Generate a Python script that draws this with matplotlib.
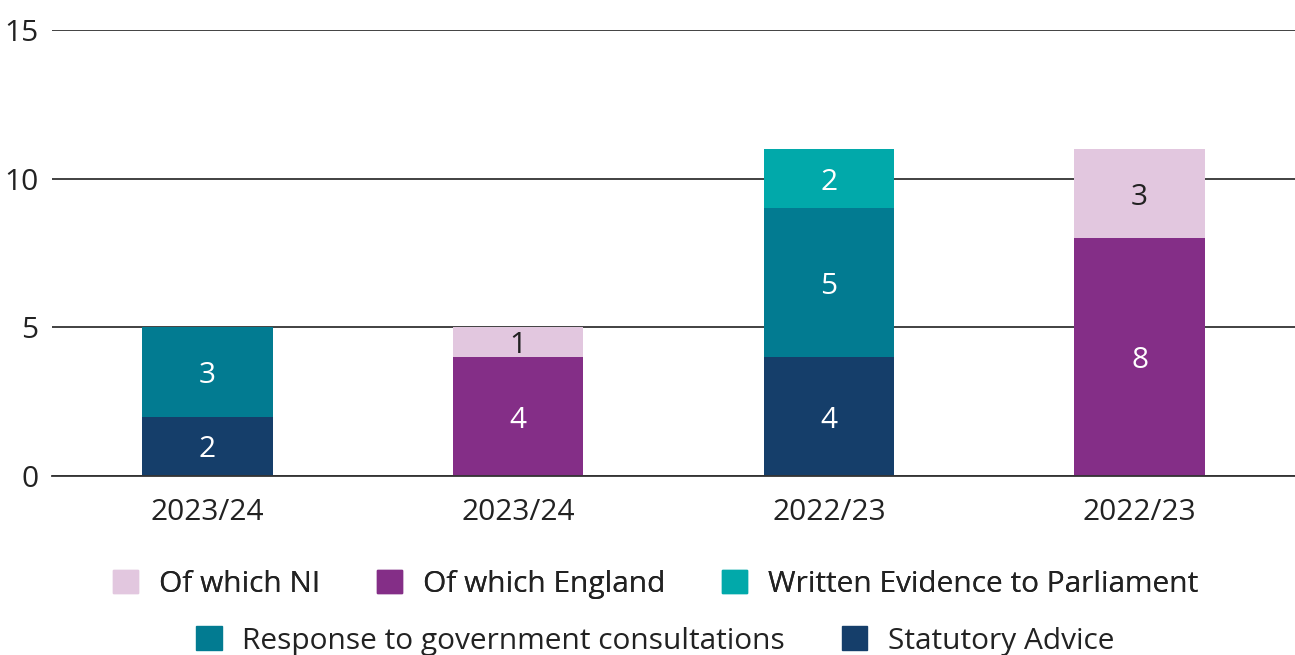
import matplotlib
matplotlib.use("Agg")
import matplotlib.pyplot as plt
from matplotlib.patches import Patch
import numpy as np

plt.rcParams['font.family'] = ['Open Sans', 'DejaVu Sans']

categories = ["2023/24", "2023/24", "2022/23", "2022/23"]
statutory = [2, 0, 4, 0]
response = [3, 0, 5, 0]
written = [0, 0, 2, 0]
england = [0, 4, 0, 8]
ni = [0, 1, 0, 3]

series = [
    ("Statutory Advice", statutory, "#153e6a", "white"),
    ("Response to government consultations", response, "#027b91", "white"),
    ("Written Evidence to Parliament", written, "#01a9aa", "white"),
    ("Of which England", england, "#842e87", "white"),
    ("Of which NI", ni, "#e2c7df", "#222222"),
]

FS = 21.5

fig = plt.figure(figsize=(12.95, 6.55), dpi=100)
ax = fig.add_axes([0.0402, 0.2733, 0.9598, 0.6809])

x = np.arange(len(categories))
bottom = np.zeros(len(categories))
for name, vals, col, tcol in series:
    vals = np.array(vals, dtype=float)
    ax.bar(x, vals, width=0.42, bottom=bottom, color=col, zorder=3)
    for xi, v, b in zip(x, vals, bottom):
        if v > 0:
            ax.text(xi, b + v / 2, f"{int(v)}", ha="center", va="center_baseline",
                    color=tcol, fontsize=FS, zorder=4)
    bottom += vals

ax.set_xlim(-0.5, 3.5)
ax.set_ylim(0, 15)
ax.set_yticks([0, 5, 10, 15])
ax.set_xticks(x)
ax.set_xticklabels(categories)
ax.tick_params(axis="both", length=0, labelsize=FS, colors="#222222")
ax.tick_params(axis="x", pad=16)
ax.tick_params(axis="y", pad=10)
ax.grid(axis="y", color="#333333", linewidth=1.3, zorder=1)
for s in ["top", "right", "left"]:
    ax.spines[s].set_visible(False)
ax.spines["bottom"].set_color("#333333")
ax.spines["bottom"].set_linewidth(1.3)
ax.spines["bottom"].set_zorder(5)

cmap = {name: col for name, _, col, _ in series}
row1 = ["Of which NI", "Of which England", "Written Evidence to Parliament"]
row2 = ["Response to government consultations", "Statutory Advice"]
common = dict(frameon=False, fontsize=FS, handlelength=0.85, handleheight=0.85,
              handletextpad=0.69, columnspacing=1.9, borderpad=0, borderaxespad=0,
              labelcolor="#222222")
leg1 = fig.legend([Patch(color=cmap[n]) for n in row1], row1, ncol=3,
                  loc="center", bbox_to_anchor=(0.506, 0.108), **common)
fig.add_artist(leg1)
fig.legend([Patch(color=cmap[n]) for n in row2], row2, ncol=2,
           loc="center", bbox_to_anchor=(0.506, 0.0214), **common)

fig.savefig("out.png", dpi=100)
